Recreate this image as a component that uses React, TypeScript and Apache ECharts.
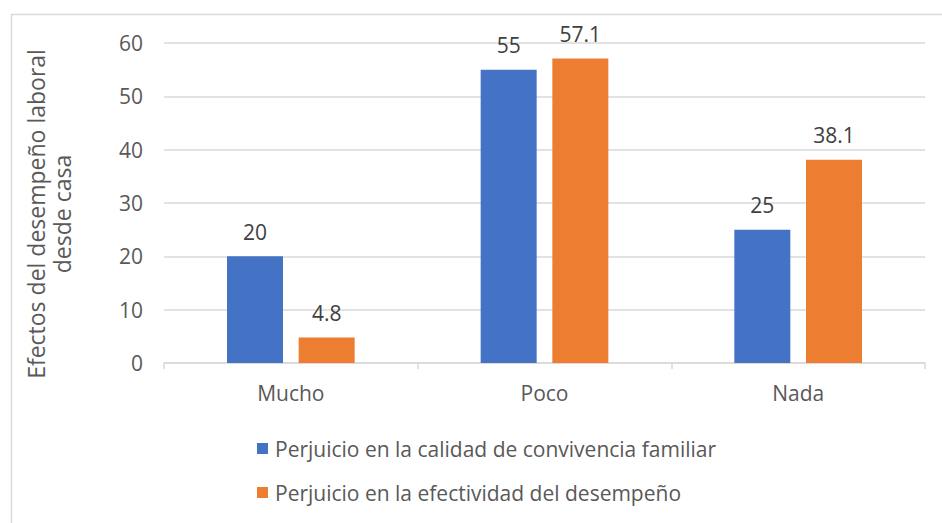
import React, { useEffect, useRef } from "react";
import * as echarts from "echarts";

const categories = ["Mucho", "Poco", "Nada"];
const seriesNames = [
  "Perjuicio en la calidad de convivencia familiar",
  "Perjuicio en la efectividad del desempeño",
];
const convivencia = [20, 55, 25];
const efectividad = [4.8, 57.1, 38.1];
const yTitle = "Efectos del desempeño laboral\ndesde casa";

const FONT = "'Open Sans', sans-serif";
const FS = 21;

export default function App() {
  const ref = useRef<HTMLDivElement>(null);
  useEffect(() => {
    if (!ref.current) return;
    const chart = echarts.init(ref.current, null, { renderer: "svg" });
    const label = {
      show: true,
      position: "top" as const,
      distance: 14,
      color: "#404040",
      fontSize: FS,
      fontFamily: FONT,
    };
    chart.setOption({
      animation: false,
      backgroundColor: "#ffffff",
      textStyle: { fontFamily: FONT },
      grid: { left: 164, right: 17, top: 43, bottom: 160, containLabel: false },
      graphic: [
        {
          type: "rect",
          shape: { x: 11.5, y: 14.5, width: 1000, height: 600 },
          style: { fill: "none", stroke: "#d9d9d9", lineWidth: 1.5 },
          silent: true,
        },
        {
          type: "text",
          x: 49,
          y: 214,
          rotation: Math.PI / 2,
          style: {
            text: yTitle,
            fill: "#595959",
            fontSize: 23,
            fontFamily: FONT,
            align: "center",
            verticalAlign: "middle",
            lineHeight: 26,
          },
        },
      ],
      legend: {
        orient: "vertical",
        left: 252,
        top: 433,
        itemWidth: 11,
        itemHeight: 11,
        itemGap: 23,
        icon: "rect",
        textStyle: { color: "#595959", fontSize: FS, fontFamily: FONT, padding: [0, 0, 0, 2] },
        data: seriesNames,
      },
      xAxis: {
        type: "category",
        data: categories,
        axisLine: { lineStyle: { color: "#d9d9d9", width: 1.5 } },
        axisTick: { show: true, length: 6, lineStyle: { color: "#d9d9d9", width: 1.5 } },
        axisLabel: { color: "#595959", fontSize: FS, margin: 19, fontFamily: FONT },
      },
      yAxis: {
        type: "value",
        min: 0,
        max: 60,
        interval: 10,
        axisLine: { show: false },
        axisTick: { show: false },
        axisLabel: { color: "#595959", fontSize: FS, margin: 21, fontFamily: FONT },
        splitLine: { lineStyle: { color: "#d9d9d9", width: 1.5 } },
      },
      series: [
        {
          name: seriesNames[0],
          type: "bar",
          data: convivencia,
          barWidth: 56,
          barGap: "28%",
          itemStyle: { color: "#4472C4" },
          label,
        },
        {
          name: seriesNames[1],
          type: "bar",
          data: efectividad,
          barWidth: 56,
          barGap: "28%",
          itemStyle: { color: "#ED7D31" },
          label,
        },
      ],
    });
    return () => chart.dispose();
  }, []);
  return (
    <div
      ref={ref}
      style={{ position: "fixed", left: 0, top: 0, width: 942, height: 523 }}
    />
  );
}
